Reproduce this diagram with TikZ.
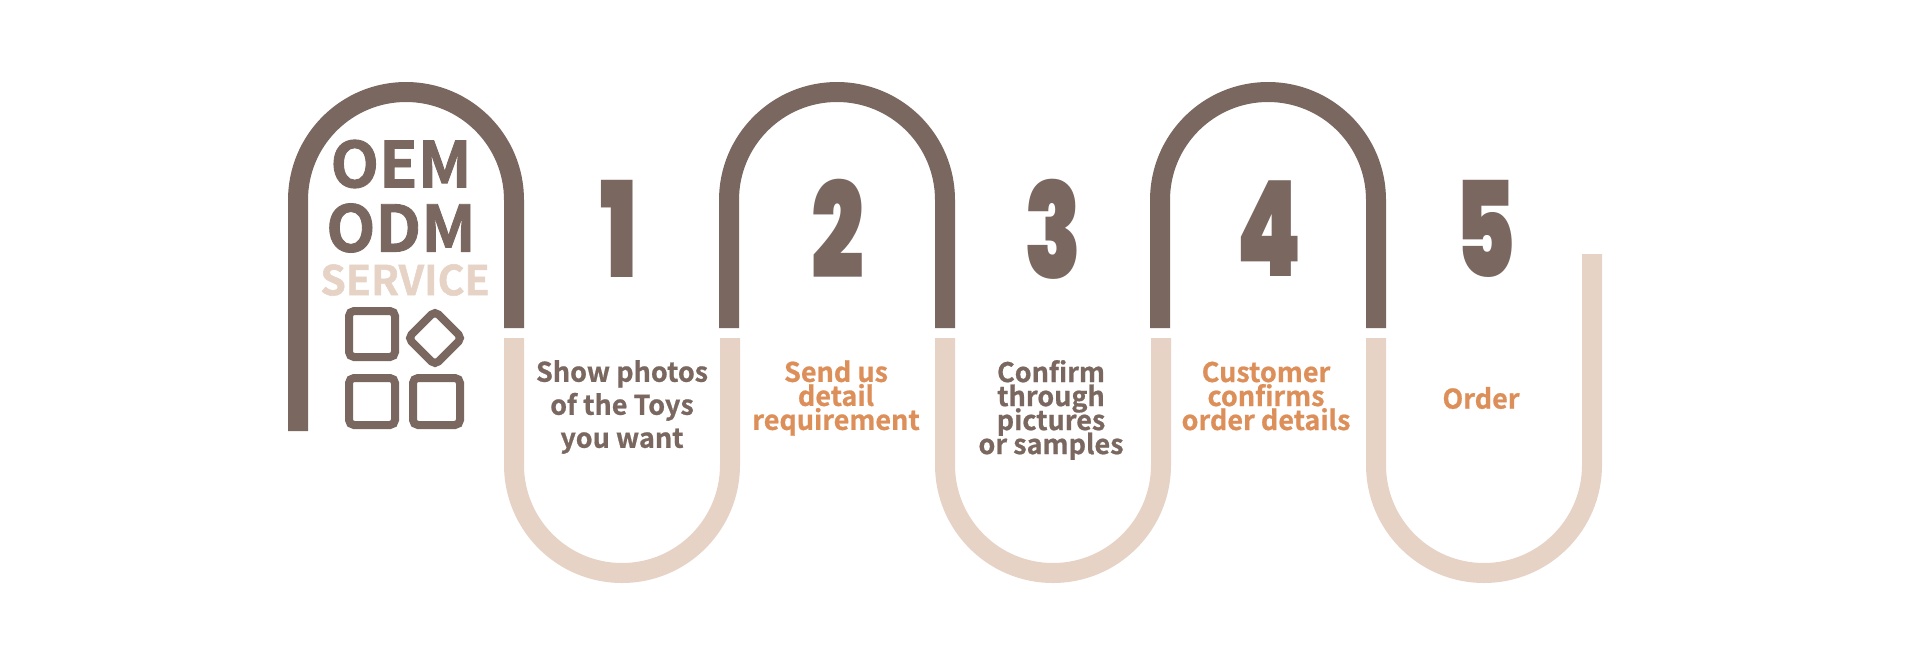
\documentclass[tikz,border=0pt]{standalone}
\usepackage{fontspec}
\usepackage{xcolor}
\setmainfont{Noto Sans CJK SC}[BoldFont={Noto Sans CJK SC Bold},BoldFeatures={FakeBold=0.8}]
\newfontfamily\digitfont[FakeStretch=0.7]{Poppins Black}
\newfontfamily\titlefont[FakeBold=1.4]{Noto Sans CJK SC Bold}
\definecolor{taupe}{HTML}{7A675F}
\definecolor{sand}{HTML}{E6D3C6}
\definecolor{accent}{HTML}{DD8F5A}
\lineskiplimit=-10pt
\normallineskiplimit=-10pt

\begin{document}
\begin{tikzpicture}[
  x=0.5pt,y=-0.5pt,
  arch/.style={taupe,line width=10pt},
  wave/.style={sand,line width=10pt},
  tile/.style={draw=taupe,line width=4pt,rounded corners=2.5pt},
  digit/.style={taupe,inner sep=0pt,font=\digitfont\fontsize{66.5}{66.5}\selectfont},
  lbl/.style={inner sep=0pt,align=center,font=\bfseries\fontsize{13.5}{12}\selectfont},
  title/.style={inner sep=0pt,font=\titlefont\fontsize{#1}{#1}\selectfont}
]
\useasboundingbox (0,0) rectangle (1920,649);

% arches on top
\draw[arch] (298,431) -- (298,200) arc[start angle=180,end angle=360,radius=108] -- (514,328);
\draw[arch] (729,328) -- (729,200) arc[start angle=180,end angle=360,radius=108] -- (945,328);
\draw[arch] (1160,328) -- (1160,200) arc[start angle=180,end angle=360,radius=108] -- (1376,328);

% waves below
\draw[wave] (514,338) -- (514,465) arc[start angle=180,end angle=0,radius=108] -- (730,338);
\draw[wave] (945,338) -- (945,465) arc[start angle=180,end angle=0,radius=108] -- (1161,338);
\draw[wave] (1376,338) -- (1376,465) arc[start angle=180,end angle=0,radius=108] -- (1592,254);

% heading
\node[title=31.5,taupe] (oem) at (401,164) {OEM};
\node[title=32,taupe] (odm) at (401,228) {ODM};
\node[title=20.5,sand] (service) at (405,280) {SERVICE};

% icon
\draw[tile] (349,311) rectangle (395,357);
\draw[tile] (349,378) rectangle (395,425);
\draw[tile] (413,378) rectangle (460,425);
\draw[tile] (435,311) -- (462,338) -- (435,365) -- (408,338) -- cycle;

% numbers
\node[digit] (n1) at (619,229) {1};
\node[digit] (n2) at (838,229) {2};
\node[digit] (n3) at (1053,229) {3};
\node[digit] (n4) at (1269,229) {4};
\node[digit] (n5) at (1485,229) {5};

% steps
\node[lbl,taupe,font=\bfseries\fontsize{13.5}{16.5}\selectfont] (s1) at (622,407) {Show photos\\of the Toys\\you want};
\node[lbl,accent] (s2) at (836,398) {Send us\\detail\\requirement};
\node[lbl,taupe] (s3) at (1051,410) {Confirm\\through\\pictures\\or samples};
\node[lbl,accent] (s4) at (1266,396) {Customer\\confirms\\order details};
\node[lbl,accent] (s5) at (1481,398) {Order};
\end{tikzpicture}
\end{document}
